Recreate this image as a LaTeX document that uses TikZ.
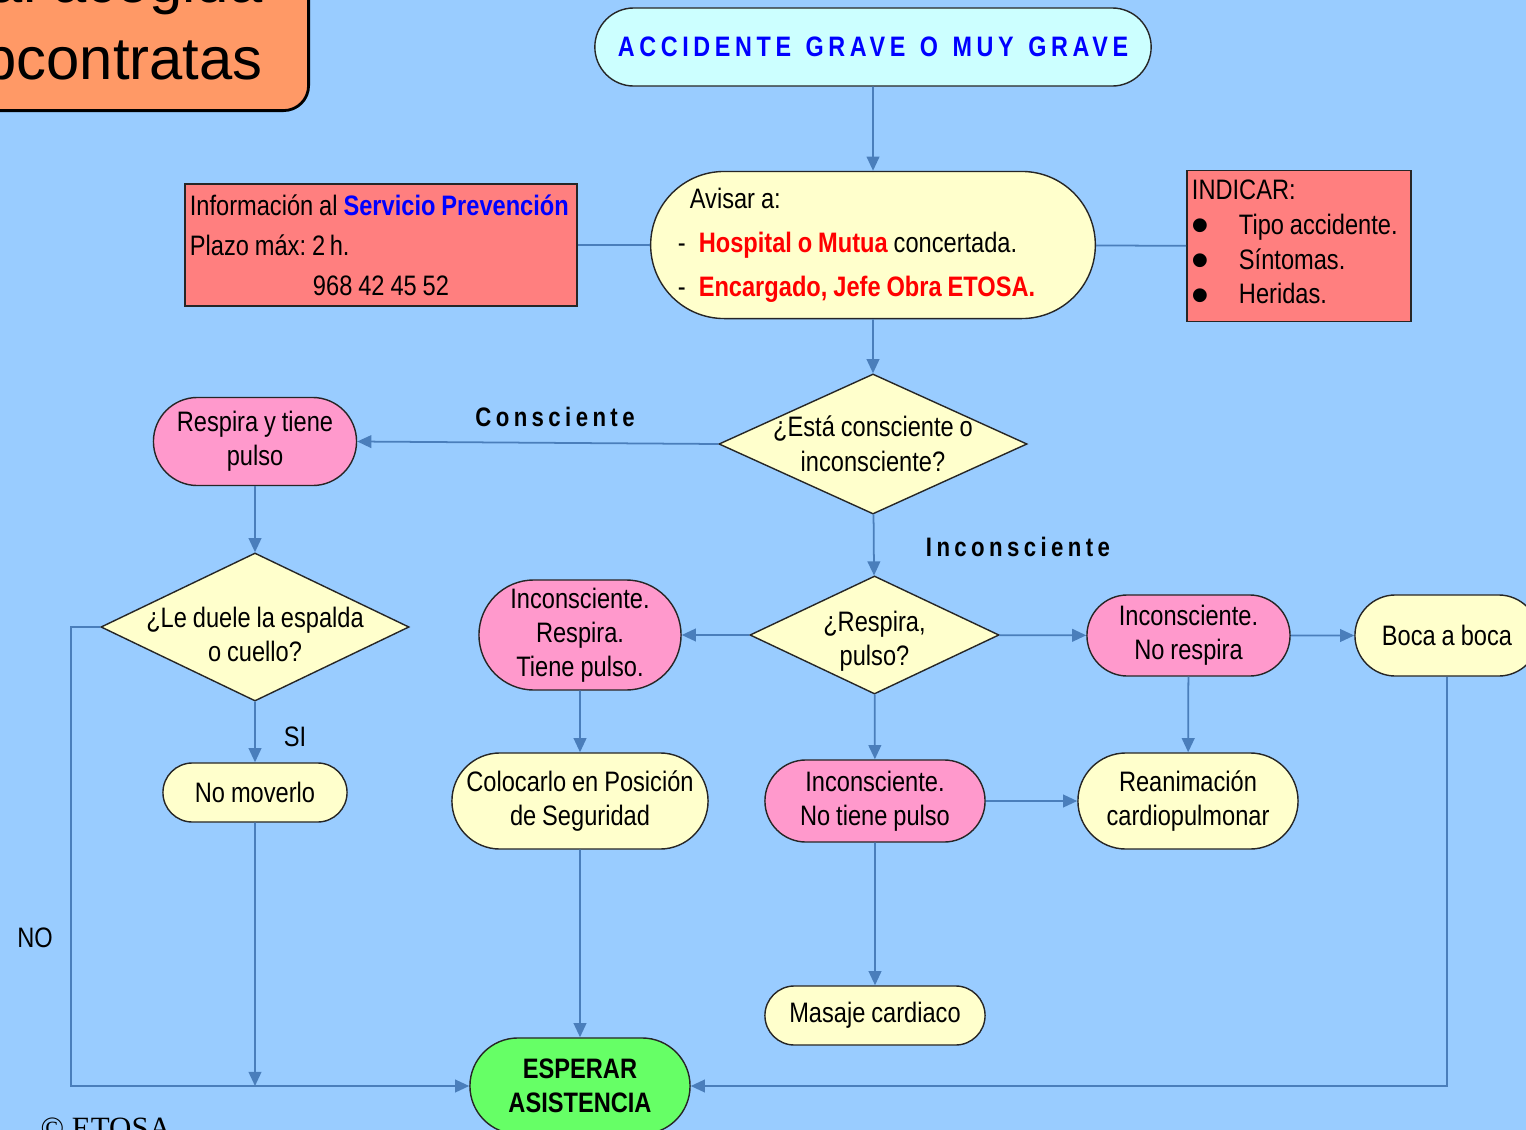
\documentclass[tikz,border=0pt]{standalone}
\usepackage{fontspec}
\setmainfont[FakeStretch=0.84,WordSpace=0.9]{Liberation Sans}
\newfontfamily\plainsans{Liberation Sans}
\newfontfamily\spacedfont[FakeStretch=0.83,WordSpace=1.3,LetterSpace=16.5]{Liberation Sans}
\newfontfamily\copyfont{Liberation Serif}
\usetikzlibrary{shapes.misc,shapes.geometric,arrows.meta}

\definecolor{bgblue}{HTML}{99CCFF}
\definecolor{linecol}{HTML}{4A7EBB}
\definecolor{cyanbox}{HTML}{CCFFFF}
\definecolor{yellowbox}{HTML}{FFFFCC}
\definecolor{pinkbox}{HTML}{FF99CC}
\definecolor{salmonbox}{HTML}{FF7F7F}
\definecolor{greenbox}{HTML}{66FF66}
\definecolor{orangebox}{HTML}{FF9966}

\frenchspacing
\newcommand\bodysize{\fontsize{8}{9.7}\selectfont}
\newcommand\fontspaces{\spaceskip=0pt\xspaceskip=0pt\relax}
\newcommand\diamtext[2][2.9pt]{\makebox[0pt]{\smash{\raisebox{-#1}{\begin{tabular}{@{}c@{}}#2\end{tabular}}}}}
\newcommand\dotitem{\makebox[0.47cm][l]{\plainsans\Large\raisebox{-2.4pt}{•}}}

\tikzset{
  pill/.style={rounded rectangle, draw=black!85, line width=0.4pt, align=center, inner sep=0pt},
  decision/.style={diamond, draw=black!85, line width=0.4pt, fill=yellowbox, inner sep=0pt},
  infobox/.style={rectangle, draw=black!85, line width=0.4pt, fill=salmonbox, inner sep=0pt},
  link/.style={draw=linecol, line width=0.5pt},
  arr/.style={link, -{Triangle[length=4pt,width=3.6pt]}},
  tag/.style={font=\spacedfont\bfseries\fontsize{7.6}{9}\selectfont},
  titlebox/.style={draw=black, line width=0.8pt, fill=orangebox, rounded corners=0.25cm,
    align=right, font=\plainsans\fontsize{17}{22}\selectfont, inner xsep=0.46cm, inner ysep=0.3cm}
}

\begin{document}
\begin{tikzpicture}[x=0.01cm, y=-0.01cm, font=\bodysize]
\useasboundingbox (0,0) rectangle (1526,1130);
\fill[bgblue] (0,0) rectangle (1526,1130);
\clip (0,0) rectangle (1526,1130);

% cabecera
\node[titlebox, anchor=south east] (titulo) at (310,112) {Manual acogida\\Subcontratas};
\node[pill, fill=cyanbox, minimum width=5.56cm, minimum height=0.78cm] (acc) at (873,47)
  {\spacedfont\bfseries\color{blue}ACCIDENTE GRAVE O MUY GRAVE};

% avisos
\node[pill, fill=yellowbox, minimum width=4.41cm, minimum height=1.47cm, align=left,
  text width=3.9cm, font=\fontsize{8}{12.5}\selectfont] (avisar) at (873,245)
  {\fontspaces\hspace*{0.12cm}Avisar a:\\
   -\hspace{0.13cm}\textcolor{red}{\bfseries Hospital o Mutua} concertada.\\
   -\hspace{0.13cm}\textcolor{red}{\bfseries Encargado, Jefe Obra ETOSA.}};
\node[infobox, minimum width=3.92cm, minimum height=1.22cm, align=left, text width=3.82cm,
  font=\fontsize{8}{11.4}\selectfont] (info) at (381,245)
  {\fontspaces\mbox{Información al \textcolor{blue}{\bfseries Servicio Prevención}}\\
   Plazo máx: 2\,h.\\
   \makebox[3.82cm]{968 42 45 52}};
\node[infobox, minimum width=2.24cm, minimum height=1.51cm, align=left, text width=2.14cm,
  font=\fontsize{8}{9.9}\selectfont] (indicar) at (1299,246)
  {\fontspaces INDICAR:\\
   \dotitem Tipo accidente.\\
   \dotitem Síntomas.\\
   \dotitem Heridas.};

\draw[arr] (acc) -- (avisar);
\draw[link] (info) -- (avisar);
\draw[link] (avisar) -- (indicar);

% consciente
\node[decision, minimum width=3.08cm, minimum height=1.40cm] (d1) at (873,444)
  {\diamtext{¿Está consciente o\\inconsciente?}};
\node[pill, fill=pinkbox, minimum width=2.03cm, minimum height=0.88cm] (respira) at (255,441.5)
  {Respira y tiene\\pulso};
\node[decision, minimum width=3.08cm, minimum height=1.48cm] (d2) at (255,627)
  {\diamtext[5pt]{¿Le duele la espalda\\o cuello?}};
\node[pill, fill=yellowbox, minimum width=1.84cm, minimum height=0.59cm] (nomover) at (255,792.5)
  {No moverlo};
\node[tag] (conslbl) at (555,417) {Consciente};
\node (silbl) at (295,737) {SI};
\node (nolbl) at (35,938) {NO};

\draw[arr] (avisar) -- (d1);
\draw[arr] (d1.west) -- (respira.east);
\draw[arr] (respira) -- (d2);
\draw[arr] (d2) -- (nomover);

% inconsciente
\node[decision, minimum width=2.49cm, minimum height=1.18cm] (d3) at (874.5,635)
  {\diamtext[3.8pt]{¿Respira,\\pulso?}};
\node[tag] (inclbl) at (1018,547) {Inconsciente};
\node[pill, fill=pinkbox, minimum width=2.02cm, minimum height=1.10cm] (irespira) at (580,635)
  {Inconsciente.\\Respira.\\Tiene pulso.};
\node[pill, fill=yellowbox, minimum width=2.56cm, minimum height=0.96cm] (colocar) at (580,801)
  {Colocarlo en Posición\\de Seguridad};
\node[pill, fill=pinkbox, minimum width=2.03cm, minimum height=0.81cm] (inoresp) at (1188.5,635.5)
  {Inconsciente.\\No respira};
\node[pill, fill=yellowbox, minimum width=1.84cm, minimum height=0.81cm] (boca) at (1447,635.5)
  {Boca a boca};
\node[pill, fill=yellowbox, minimum width=2.20cm, minimum height=0.96cm] (reanim) at (1188,801)
  {Reanimación\\cardiopulmonar};
\node[pill, fill=pinkbox, minimum width=2.20cm, minimum height=0.82cm] (inopulso) at (875,801)
  {Inconsciente.\\No tiene pulso};
\node[pill, fill=yellowbox, minimum width=2.20cm, minimum height=0.59cm] (masaje) at (875,1015.5)
  {Masaje cardiaco};
\node[pill, fill=greenbox, minimum width=2.20cm, minimum height=0.96cm, font=\bfseries\fontsize{8}{9.7}\selectfont]
  (esperar) at (580,1086) {ESPERAR\\ASISTENCIA};

\coordinate (noesq) at (71,1086);
\coordinate (nojunta) at (255,1086);

\draw[arr] (d1) -- (d3);
\draw[arr] (d3) -- (irespira);
\draw[arr] (irespira) -- (colocar);
\draw[arr] (colocar) -- (esperar);
\draw[arr] (d3) -- (inoresp);
\draw[arr] (inoresp) -- (boca);
\draw[arr] (inoresp) -- (reanim);
\draw[arr] (d3) -- (inopulso);
\draw[arr] (inopulso) -- (reanim);
\draw[arr] (inopulso) -- (masaje);
\draw[arr] (boca.south) |- (esperar.east);
\draw[arr] (d2.west) -| (noesq) -- (esperar.west);
\draw[arr] (nomover) -- (nojunta);

\node[anchor=base west, inner sep=0pt, font=\copyfont\fontsize{8.8}{10}\selectfont] (copy) at (40,1138) {© ETOSA};
\end{tikzpicture}
\end{document}
